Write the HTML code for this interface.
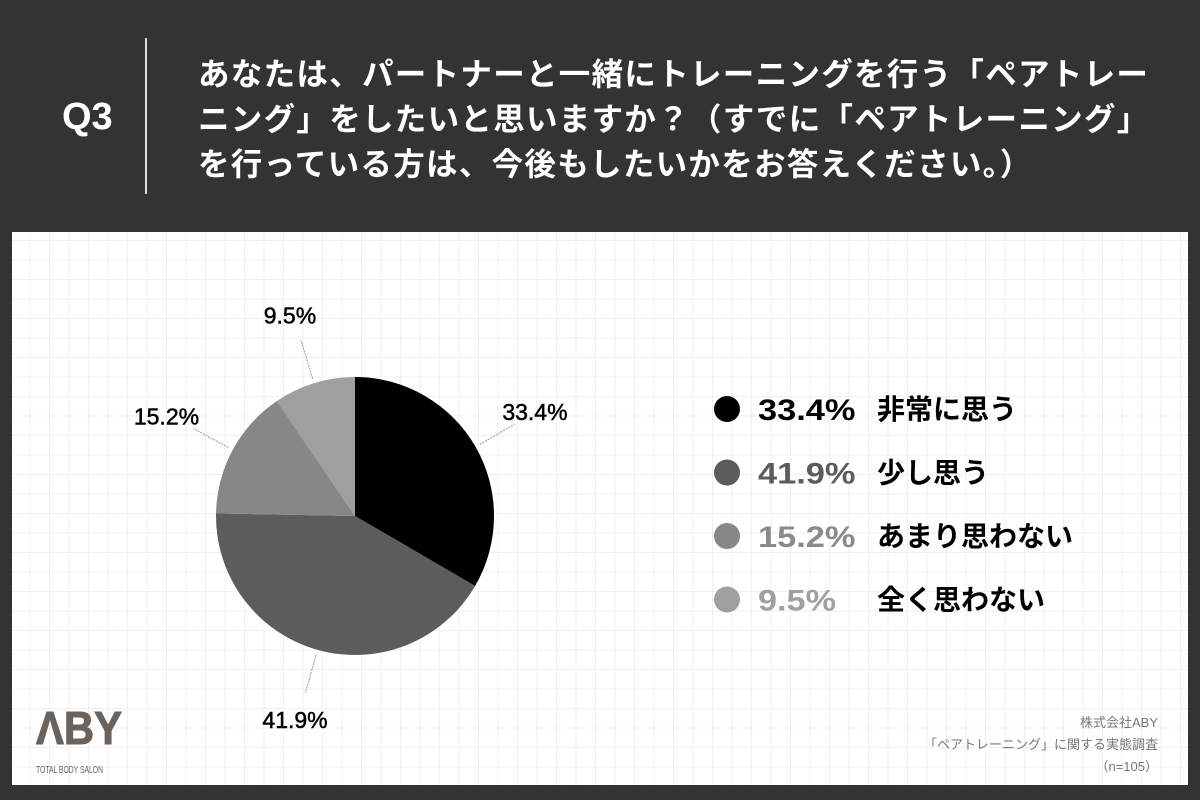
<!DOCTYPE html>
<html><head><meta charset="utf-8">
<style>
html,body{margin:0;padding:0;}
body{width:1200px;height:800px;background:#333;position:relative;overflow:hidden;font-family:"Liberation Sans","Noto Sans CJK JP",sans-serif;}
#q{position:absolute;left:62px;top:96px;color:#fff;font-size:38px;font-weight:bold;}
#vline{position:absolute;left:145px;top:38px;width:2px;height:156px;background:#ddd;}
#title{position:absolute;left:198px;top:50px;color:#fff;font-size:31.5px;font-weight:bold;line-height:45px;letter-spacing:1.3px;font-family:"Noto Sans CJK JP",sans-serif;white-space:nowrap;}
#card{position:absolute;left:12px;top:232px;width:1176px;height:553px;background-color:#fff;
background-image:linear-gradient(#efefef 1px,transparent 1px),linear-gradient(90deg,#efefef 1px,transparent 1px);background-size:19.5px 19.5px;background-position:-2px 8px;}
svg{position:absolute;left:0;top:0;}
</style></head><body>
<div id="q">Q3</div>
<div id="vline"></div>
<div id="title">あなたは、パートナーと一緒にトレーニングを行う「ペアトレー<br>ニング」をしたいと思いますか？（すでに「ペアトレーニング」<br>を行っている方は、今後もしたいかをお答えください。）</div>
<div id="card"></div>
<svg width="1200" height="800" id="chart">
<g id="slices"></g><g id="labels"></g><g id="legend"></g>
<g>
<text x="36" y="744" font-family="Liberation Sans,sans-serif" font-size="46" font-weight="bold" fill="#6b625c" stroke="#6b625c" stroke-width="1" textLength="86" lengthAdjust="spacingAndGlyphs">ΛBY</text>
<text x="36" y="773" font-family="Liberation Sans,sans-serif" font-size="10" fill="#6b625c" textLength="67" lengthAdjust="spacingAndGlyphs">TOTAL BODY SALON</text>
</g>
<g font-family="Liberation Sans,Noto Sans CJK JP,sans-serif" font-size="13" fill="#777" text-anchor="end">
<text x="1158" y="727">株式会社ABY</text>
<text x="1158" y="749">「ペアトレーニング」に関する実態調査</text>
<text x="1158" y="771">（n=105）</text>
</g>
</svg>
<script>
const categories=["非常に思う","少し思う","あまり思わない","全く思わない"];
const values=[33.4,41.9,15.2,9.5];
const valueLabels=["33.4%","41.9%","15.2%","9.5%"];
const colors=["#000000","#5c5c5c","#878787","#9f9f9f"];
const legendPctColors=["#000000","#5c5c5c","#8a8a8a","#a0a0a0"];
const cx=355,cy=516,r=139;
const NS="http://www.w3.org/2000/svg";
const total=values.reduce((a,b)=>a+b,0);
function pt(a,rad){return [cx+rad*Math.sin(a),cy-rad*Math.cos(a)];}
let a0=0;
const sl=document.getElementById('slices'),lb=document.getElementById('labels'),lg=document.getElementById('legend');
values.forEach((v,i)=>{
  const a1=a0+v/total*2*Math.PI;
  const p0=pt(a0,r),p1=pt(a1,r);
  const path=document.createElementNS(NS,'path');
  path.setAttribute('d',`M${cx},${cy}L${p0[0]},${p0[1]}A${r},${r} 0 ${a1-a0>Math.PI?1:0} 1 ${p1[0]},${p1[1]}Z`);
  path.setAttribute('fill',colors[i]);
  
  
  sl.appendChild(path);
  const m=(a0+a1)/2;
  const l0=pt(m,r+5),l1=pt(m,r+45);
  const ln=document.createElementNS(NS,'line');
  ln.setAttribute('x1',l0[0]);ln.setAttribute('y1',l0[1]);ln.setAttribute('x2',l1[0]);ln.setAttribute('y2',l1[1]);
  ln.setAttribute('stroke','#999');ln.setAttribute('stroke-width','1');ln.setAttribute('stroke-dasharray','2,1');
  
  
  lb.appendChild(ln);
  const tp=pt(m,r+72);
  const t=document.createElementNS(NS,'text');
  t.setAttribute('x',tp[0]-3);t.setAttribute('y',tp[1]+9);t.setAttribute('text-anchor','middle');
  t.setAttribute('font-size','23');t.setAttribute('font-family','Liberation Sans,sans-serif');t.setAttribute('fill','#000');
  t.setAttribute('stroke','#000');t.setAttribute('stroke-width','0.5');
  t.textContent=valueLabels[i];
  
  
  lb.appendChild(t);
  const y=409+i*63.5;
  const c=document.createElementNS(NS,'circle');
  c.setAttribute('cx',727);c.setAttribute('cy',y);c.setAttribute('r',13);c.setAttribute('fill',colors[i]);
  
  
  lg.appendChild(c);
  const tp2=document.createElementNS(NS,'text');
  tp2.setAttribute('x',758);tp2.setAttribute('y',y+11);tp2.setAttribute('font-size','30');tp2.setAttribute('font-weight','bold');
  tp2.setAttribute('font-family','Liberation Sans,sans-serif');tp2.setAttribute('fill',legendPctColors[i]);
  tp2.setAttribute('textLength',valueLabels[i].length*19.5);tp2.setAttribute('lengthAdjust','spacingAndGlyphs');
  tp2.textContent=valueLabels[i];
  
  
  lg.appendChild(tp2);
  const tl=document.createElementNS(NS,'text');
  tl.setAttribute('x',877);tl.setAttribute('y',y+10);tl.setAttribute('font-size','28');tl.setAttribute('font-weight','bold');
  tl.setAttribute('font-family','Noto Sans CJK JP,sans-serif');tl.setAttribute('fill','#000');
  tl.textContent=categories[i];
  
  
  lg.appendChild(tl);
  a0=a1;
});
</script>
</body></html>
